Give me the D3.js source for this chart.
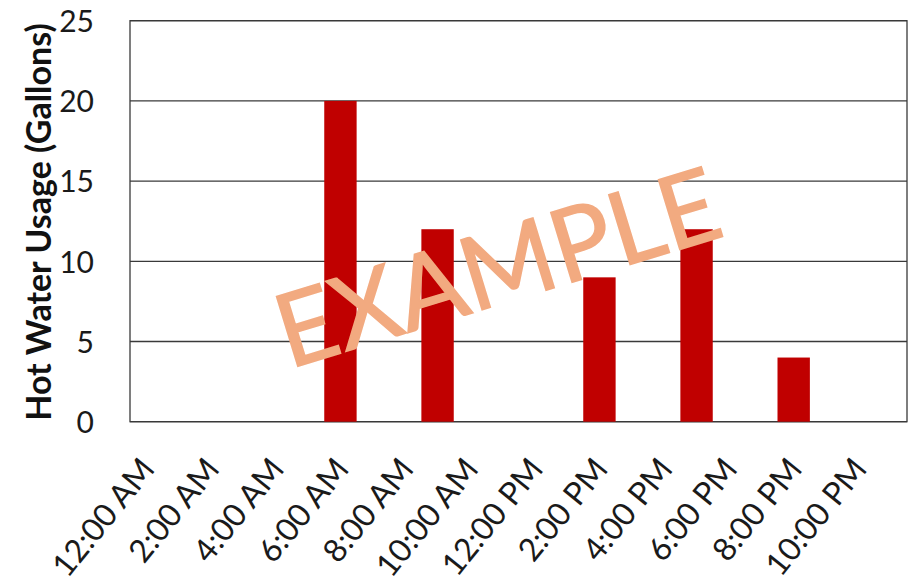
<!DOCTYPE html>
<html>
<head>
<meta charset="utf-8">
<script src="https://cdn.jsdelivr.net/npm/d3@7"></script>
<style>
  html, body { margin: 0; padding: 0; background: #fff; }
  svg { display: block; font-family: Lato, "Open Sans", sans-serif; }
</style>
</head>
<body>
<svg id="chart" width="911" height="577"></svg>
<script>
// Hourly hot water usage over one day
const hours = [
  "12:00 AM", "1:00 AM", "2:00 AM", "3:00 AM", "4:00 AM", "5:00 AM",
  "6:00 AM", "7:00 AM", "8:00 AM", "9:00 AM", "10:00 AM", "11:00 AM",
  "12:00 PM", "1:00 PM", "2:00 PM", "3:00 PM", "4:00 PM", "5:00 PM",
  "6:00 PM", "7:00 PM", "8:00 PM", "9:00 PM", "10:00 PM", "11:00 PM"
];
const gallons = [0, 0, 0, 0, 0, 0, 20, 0, 0, 12, 0, 0, 0, 0, 9, 0, 0, 12, 0, 0, 4, 0, 0, 0];
const yTicks = [0, 5, 10, 15, 20, 25];
const shownLabels = hours.filter((d, i) => i % 2 === 0);
const yTitle = "Hot Water Usage (Gallons)";
const stamp = "EXAMPLE";

const svg = d3.select("#chart");
const plot = { left: 130, right: 907, top: 20.7, bottom: 421.7 };

const x = d3.scaleBand()
  .domain(hours)
  .range([plot.left, plot.right])
  .paddingInner(0)
  .paddingOuter(0);

const y = d3.scaleLinear()
  .domain([0, 25])
  .range([plot.bottom, plot.top]);

// horizontal gridlines
svg.append("g")
  .selectAll("line")
  .data(yTicks)
  .join("line")
  .attr("x1", plot.left)
  .attr("x2", plot.right)
  .attr("y1", d => y(d))
  .attr("y2", d => y(d))
  .attr("stroke", "#3a3a3a")
  .attr("stroke-width", 1.3);

// plot area frame
svg.append("rect")
  .attr("x", plot.left)
  .attr("y", plot.top)
  .attr("width", plot.right - plot.left)
  .attr("height", plot.bottom - plot.top)
  .attr("fill", "none")
  .attr("stroke", "#3a3a3a")
  .attr("stroke-width", 1.3);

// bars
svg.append("g")
  .selectAll("rect")
  .data(hours.map((h, i) => ({ h, v: gallons[i] })).filter(d => d.v > 0))
  .join("rect")
  .attr("x", d => x(d.h))
  .attr("width", x.bandwidth())
  .attr("y", d => y(d.v))
  .attr("height", d => y(0) - y(d.v))
  .attr("fill", "#C00000");

// y axis labels
const yAxis = d3.axisLeft(y).tickValues(yTicks).tickSize(0).tickPadding(0);
const gy = svg.append("g")
  .attr("transform", `translate(${plot.left - 36},0)`)
  .call(yAxis);
gy.select(".domain").remove();
gy.selectAll("text")
  .attr("font-family", "Lato, 'Open Sans', sans-serif")
  .attr("font-size", 30)
  .attr("fill", "#1a1a1a")
  .attr("dy", "0.36em");

// x axis labels, every other hour
const xAxis = d3.axisBottom(x).tickValues(shownLabels).tickSize(0).tickPadding(0);
const gx = svg.append("g")
  .attr("transform", `translate(0,${plot.bottom})`)
  .call(xAxis);
gx.select(".domain").remove();
gx.selectAll("text")
  .attr("font-family", "Lato, 'Open Sans', sans-serif")
  .attr("font-size", 32)
  .attr("fill", "#1a1a1a")
  .attr("text-anchor", "end")
  .attr("y", 0)
  .attr("dy", 0)
  .attr("transform", "translate(10,48) rotate(-51)");

// y axis title
svg.append("text")
  .attr("transform", "translate(51,222) rotate(-90)")
  .attr("text-anchor", "middle")
  .attr("font-weight", "bold")
  .attr("font-size", 34)
  .attr("fill", "#111")
  .text(yTitle);

// watermark stamp across the plot
svg.append("text")
  .attr("transform", "translate(508,302) rotate(-17)")
  .attr("text-anchor", "middle")
  .attr("font-size", 102)
  .attr("fill", "#F2AA80")
  .attr("stroke", "#F2AA80")
  .attr("stroke-width", 1.5)
  .attr("textLength", 458)
  .attr("lengthAdjust", "spacingAndGlyphs")
  .text(stamp);
</script>
</body>
</html>
